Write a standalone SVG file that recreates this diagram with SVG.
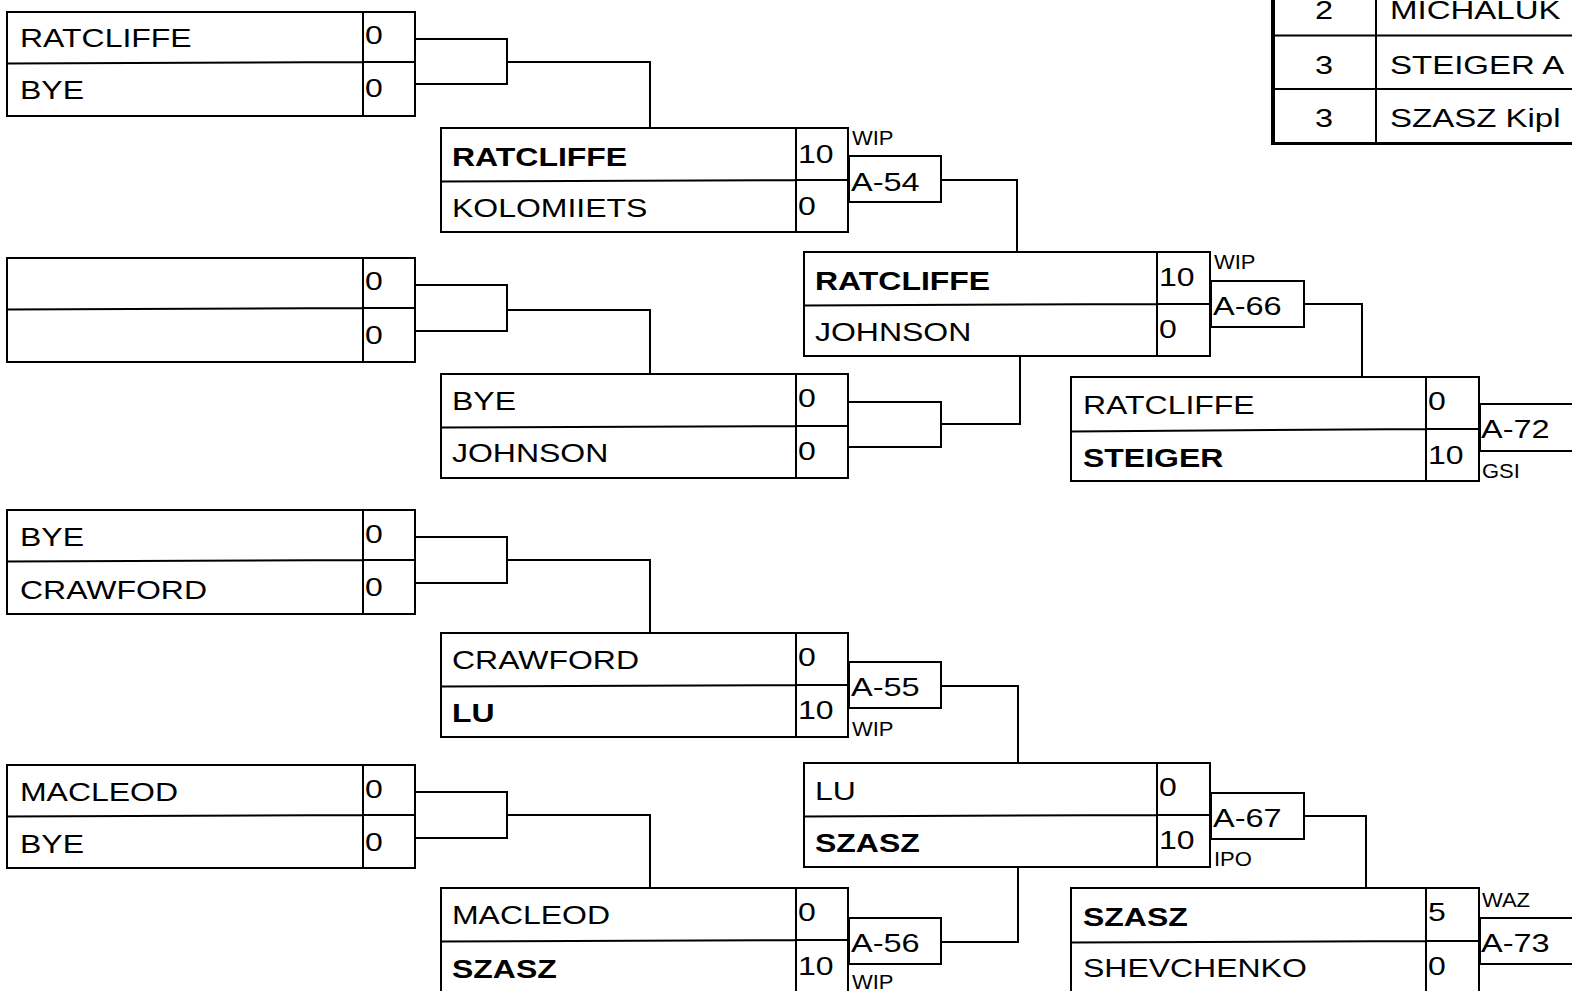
<svg xmlns="http://www.w3.org/2000/svg" width="1572" height="991" viewBox="0 0 1572 991">
<style>
.bg{fill:#fff}
.box{fill:#fff;stroke:#000;stroke-width:2}
.ln{fill:none;stroke:#000;stroke-width:2}
.tl{fill:none;stroke:#000}
text{font-family:"Liberation Sans",Arial,sans-serif;fill:#000}
.nm{font-size:26px}
.b{font-weight:bold}
.lb{font-size:26px}
.sm{font-size:20px}
.c{text-anchor:middle}
</style>
<rect class="bg" x="0" y="0" width="1572" height="991"/>

<g id="standings">
<path class="tl" stroke-width="2" d="M1376 0 V143 M1273 35.5 H1572 M1273 89 H1572"/>
<path class="tl" stroke-width="4" d="M1273 0 V145"/>
<path class="tl" stroke-width="3" d="M1271 143.5 H1572"/>
<text class="nm c" transform="translate(1324,19) scale(1.25,1)">2</text>
<text class="nm" transform="translate(1390,19) scale(1.27,1)">MICHALUK</text>
<text class="nm c" transform="translate(1324,74) scale(1.25,1)">3</text>
<text class="nm" transform="translate(1390,74) scale(1.27,1)">STEIGER A</text>
<text class="nm c" transform="translate(1324,127) scale(1.25,1)">3</text>
<text class="nm" transform="translate(1390,127) scale(1.27,1)">SZASZ Kipl</text>
</g>

<g id="connectors">
<path class="ln" d="M415 39 H507 V84 H415 M507 62 H650 V128"/>
<path class="ln" d="M415 285 H507 V331 H415 M507 310 H650 V374"/>
<path class="ln" d="M415 537 H507 V583 H415 M507 560 H650 V633"/>
<path class="ln" d="M415 792 H507 V838 H415 M507 815 H650 V888"/>
<path class="ln" d="M941 180 H1017 V252"/>
<path class="ln" d="M848 402 H941 V447 H848 M941 424 H1020 V356"/>
<path class="ln" d="M941 686 H1018 V763"/>
<path class="ln" d="M941 942 H1018 V867"/>
<path class="ln" d="M1304 304 H1362 V377"/>
<path class="ln" d="M1304 816 H1366 V888"/>
</g>

<!-- Round 1 -->
<g id="r1m1">
<rect class="box" x="7" y="12" width="408" height="104"/>
<path class="ln" d="M7 63.5 L363 62 H415 M363 12 V116"/>
<text class="nm" transform="translate(20,47) scale(1.23,1)">RATCLIFFE</text>
<text class="nm" transform="translate(20,99) scale(1.23,1)">BYE</text>
<text class="nm" transform="translate(365,44) scale(1.23,1)">0</text>
<text class="nm" transform="translate(365,97) scale(1.23,1)">0</text>
</g>
<g id="r1m2">
<rect class="box" x="7" y="258" width="408" height="104"/>
<path class="ln" d="M7 309.5 L363 308 H415 M363 258 V362"/>
<text class="nm" transform="translate(365,290) scale(1.23,1)">0</text>
<text class="nm" transform="translate(365,344) scale(1.23,1)">0</text>
</g>
<g id="r1m3">
<rect class="box" x="7" y="510" width="408" height="104"/>
<path class="ln" d="M7 561.5 L363 560 H415 M363 510 V614"/>
<text class="nm" transform="translate(20,546) scale(1.23,1)">BYE</text>
<text class="nm" transform="translate(20,599) scale(1.23,1)">CRAWFORD</text>
<text class="nm" transform="translate(365,543) scale(1.23,1)">0</text>
<text class="nm" transform="translate(365,596) scale(1.23,1)">0</text>
</g>
<g id="r1m4">
<rect class="box" x="7" y="765" width="408" height="103"/>
<path class="ln" d="M7 816.5 L363 815 H415 M363 765 V868"/>
<text class="nm" transform="translate(20,801) scale(1.23,1)">MACLEOD</text>
<text class="nm" transform="translate(20,853) scale(1.23,1)">BYE</text>
<text class="nm" transform="translate(365,798) scale(1.23,1)">0</text>
<text class="nm" transform="translate(365,851) scale(1.23,1)">0</text>
</g>

<!-- Round 2 -->
<g id="r2m1">
<rect class="box" x="441" y="128" width="407" height="104"/>
<path class="ln" d="M441 181.5 L796 180 H848 M796 128 V232"/>
<text class="nm b" transform="translate(452,166) scale(1.23,1)">RATCLIFFE</text>
<text class="nm" transform="translate(452,217) scale(1.23,1)">KOLOMIIETS</text>
<text class="nm" transform="translate(798,163) scale(1.23,1)">10</text>
<text class="nm" transform="translate(798,215) scale(1.23,1)">0</text>
<rect class="box" x="849" y="156" width="92" height="46"/>
<text class="lb" transform="translate(851,191) scale(1.25,1)">A-54</text>
<text class="sm" transform="translate(852,145) scale(1.1,1)">WIP</text>
</g>
<g id="r2m2">
<rect class="box" x="441" y="374" width="407" height="104"/>
<path class="ln" d="M441 427.5 L796 426 H848 M796 374 V478"/>
<text class="nm" transform="translate(452,410) scale(1.23,1)">BYE</text>
<text class="nm" transform="translate(452,462) scale(1.23,1)">JOHNSON</text>
<text class="nm" transform="translate(798,407) scale(1.23,1)">0</text>
<text class="nm" transform="translate(798,460) scale(1.23,1)">0</text>
</g>
<g id="r2m3">
<rect class="box" x="441" y="633" width="407" height="104"/>
<path class="ln" d="M441 686.5 L796 685 H848 M796 633 V737"/>
<text class="nm" transform="translate(452,669) scale(1.23,1)">CRAWFORD</text>
<text class="nm b" transform="translate(452,722) scale(1.23,1)">LU</text>
<text class="nm" transform="translate(798,666) scale(1.23,1)">0</text>
<text class="nm" transform="translate(798,719) scale(1.23,1)">10</text>
<rect class="box" x="849" y="662" width="92" height="46"/>
<text class="lb" transform="translate(851,696) scale(1.25,1)">A-55</text>
<text class="sm" transform="translate(852,736) scale(1.1,1)">WIP</text>
</g>
<g id="r2m4">
<rect class="box" x="441" y="888" width="407" height="106"/>
<path class="ln" d="M441 941.5 L796 940 H848 M796 888 V994"/>
<text class="nm" transform="translate(452,924) scale(1.23,1)">MACLEOD</text>
<text class="nm b" transform="translate(452,978) scale(1.23,1)">SZASZ</text>
<text class="nm" transform="translate(798,921) scale(1.23,1)">0</text>
<text class="nm" transform="translate(798,975) scale(1.23,1)">10</text>
<rect class="box" x="849" y="918" width="92" height="46"/>
<text class="lb" transform="translate(851,952) scale(1.25,1)">A-56</text>
<text class="sm" transform="translate(852,989) scale(1.1,1)">WIP</text>
</g>

<!-- Round 3 -->
<g id="r3m1">
<rect class="box" x="804" y="252" width="406" height="104"/>
<path class="ln" d="M804 305.5 L1157 304 H1210 M1157 252 V356"/>
<text class="nm b" transform="translate(815,290) scale(1.23,1)">RATCLIFFE</text>
<text class="nm" transform="translate(815,341) scale(1.23,1)">JOHNSON</text>
<text class="nm" transform="translate(1159,286) scale(1.23,1)">10</text>
<text class="nm" transform="translate(1159,338) scale(1.23,1)">0</text>
<rect class="box" x="1211" y="281" width="93" height="46"/>
<text class="lb" transform="translate(1213,315) scale(1.25,1)">A-66</text>
<text class="sm" transform="translate(1214,269) scale(1.1,1)">WIP</text>
</g>
<g id="r3m2">
<rect class="box" x="804" y="763" width="406" height="104"/>
<path class="ln" d="M804 816.5 L1157 815 H1210 M1157 763 V867"/>
<text class="nm" transform="translate(815,800) scale(1.23,1)">LU</text>
<text class="nm b" transform="translate(815,852) scale(1.23,1)">SZASZ</text>
<text class="nm" transform="translate(1159,796) scale(1.23,1)">0</text>
<text class="nm" transform="translate(1159,849) scale(1.23,1)">10</text>
<rect class="box" x="1211" y="793" width="93" height="46"/>
<text class="lb" transform="translate(1213,827) scale(1.25,1)">A-67</text>
<text class="sm" transform="translate(1214,866) scale(1.1,1)">IPO</text>
</g>

<!-- Round 4 -->
<g id="r4m1">
<rect class="box" x="1071" y="377" width="408" height="104"/>
<path class="ln" d="M1071 431.5 L1426 429 H1479 M1426 377 V481"/>
<text class="nm" transform="translate(1083,414) scale(1.23,1)">RATCLIFFE</text>
<text class="nm b" transform="translate(1083,467) scale(1.23,1)">STEIGER</text>
<text class="nm" transform="translate(1428,410) scale(1.23,1)">0</text>
<text class="nm" transform="translate(1428,464) scale(1.23,1)">10</text>
<rect class="box" x="1480" y="404" width="200" height="47"/>
<text class="lb" transform="translate(1481,438) scale(1.25,1)">A-72</text>
<text class="sm" transform="translate(1482,478) scale(1.1,1)">GSI</text>
</g>
<g id="r4m2">
<rect class="box" x="1071" y="888" width="408" height="106"/>
<path class="ln" d="M1071 942.5 L1426 941 H1479 M1426 888 V994"/>
<text class="nm b" transform="translate(1083,926) scale(1.23,1)">SZASZ</text>
<text class="nm" transform="translate(1083,977) scale(1.23,1)">SHEVCHENKO</text>
<text class="nm" transform="translate(1428,921) scale(1.23,1)">5</text>
<text class="nm" transform="translate(1428,975) scale(1.23,1)">0</text>
<rect class="box" x="1480" y="918" width="200" height="46"/>
<text class="lb" transform="translate(1481,952) scale(1.25,1)">A-73</text>
<text class="sm" transform="translate(1482,907) scale(1.1,1)">WAZ</text>
</g>
</svg>
